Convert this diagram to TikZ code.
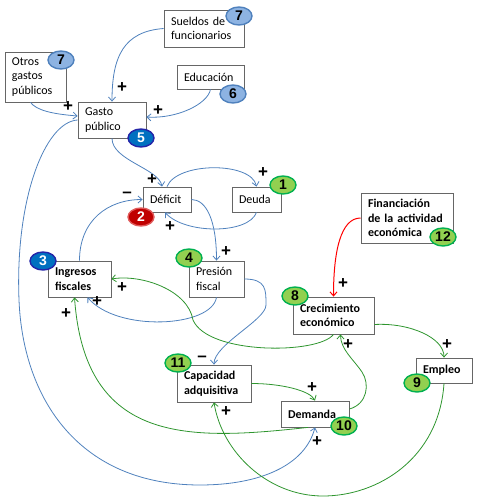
\documentclass[tikz,border=0pt]{standalone}
\usepackage{fontspec}
\setmainfont{Carlito}
\newfontfamily\numfont{Liberation Sans}
\usetikzlibrary{arrows.meta,shapes.geometric}

\definecolor{lineblue}{HTML}{4F81BD}
\definecolor{linegreen}{HTML}{2E952E}
\definecolor{lightfill}{HTML}{8DB3E2}
\definecolor{darkfill}{HTML}{0070C0}
\definecolor{darkrim}{HTML}{2424A8}
\definecolor{redfill}{HTML}{C00000}
\definecolor{redrim}{HTML}{E05A5A}
\definecolor{greenfill}{HTML}{92D050}
\definecolor{greenrim}{HTML}{00B050}

\begin{document}
\begin{tikzpicture}[x=1pt, y=-1pt,
    box/.style={draw=black!60, line width=0.8pt, fill=white, align=left,
        inner xsep=7pt, inner ysep=0pt, font=\fontsize{12}{14.5}\selectfont},
    bbox/.style={box, font=\bfseries\fontsize{12}{14.5}\selectfont},
    badge/.style 2 args={ellipse, fill=#1, draw=#2, line width=1.4pt, inner sep=-1pt,
        minimum width=26pt, minimum height=18pt, font=\numfont\bfseries\fontsize{14}{14}\selectfont},
    sign/.style={inner sep=0pt, font=\numfont\bfseries\fontsize{17}{17}\selectfont},
    link/.style={draw=lineblue, line width=0.8pt, -{Straight Barb[length=4pt,width=7pt]}},
    glink/.style={link, draw=linegreen},
    rlink/.style={link, draw=red, line width=1pt}]
    \useasboundingbox (0,0) rectangle (479,503);
    % boxes
    \node[box, text width=66pt, minimum height=37pt] (sueldos) at (204,28.5) {Sueldos de\\funcionarios};
    \node[box, text width=47pt, minimum height=50pt] (otros) at (35.5,77) {Otros\\gastos\\públicos};
    \node[box, text width=53pt, minimum height=24pt] (educ) at (210.5,77) {Educación};
    \node[box, text width=54pt, minimum height=36pt] (gasto) at (112,120) {Gasto\\público};
    \node[box, text width=34pt, minimum height=25pt] (deficit) at (167,199.5) {Déficit};
    \node[box, text width=35pt, minimum height=25pt] (deuda) at (256.5,199.5) {Deuda};
    \node[bbox, text width=49pt, minimum height=36pt] (ingresos) at (79.5,279) {Ingresos\\fiscales};
    \node[box, text width=41pt, minimum height=36pt] (presion) at (216.5,279) {Presión\\fiscal};
    \node[bbox, text width=78pt, minimum height=50pt] (financ) at (407,218) {Financiación\\de la actividad\\económica};
    \node[bbox, text width=67pt, minimum height=37pt] (crec) at (333.5,315.5) {Crecimiento\\económico};
    \node[bbox, text width=42pt, minimum height=25pt] (empleo) at (444,370.5) {Empleo};
    \node[bbox, text width=60pt, minimum height=37pt] (capac) at (214,383.5) {Capacidad\\adquisitiva};
    \node[bbox, text width=54pt, minimum height=26pt] (demanda) at (315,414) {Demanda};
    % blue links
    \draw[link] (sueldos.west) .. controls +(-40,3) and +(0,-45) .. (gasto.north);
    \draw[link] ([shift={(-5,0)}]otros.south) .. controls +(6,8) and +(-25,-2) .. ([shift={(0,-4)}]gasto.west);
    \draw[link] (educ.south) .. controls +(-3,15) and +(30,2) .. ([shift={(0,-3)}]gasto.east);
    \draw[link] (gasto.south) .. controls +(0,22) and +(-3,-18) .. ([shift={(-5,0)}]deficit.north);
    \draw[link] (deficit.north) .. controls +(10,-25) and +(-5,-25) .. (deuda.north);
    \draw[link] (deuda.south) .. controls +(-8,22) and +(20,22) .. ([shift={(-2,0)}]deficit.south);
    \draw[link] (deficit.east) .. controls +(15,0) and +(0,-40) .. (presion.north);
    \draw[link] (ingresos.north) .. controls +(0,-40) and +(-35,0) .. (deficit.west);
    \draw[link] (presion.south) .. controls +(-5,30) and +(30,35) .. ([shift={(8,0)}]ingresos.south);
    \draw[link] (presion.east) .. controls +(22,0) and +(0,-15) .. (266,305)
        .. controls +(0,15) and +(0,-20) .. (capac.north);
    \draw[link] (gasto.west) .. controls +(-33,2) and +(-4,-100) .. (19,300)
        .. controls +(4,100) and +(-120,0) .. (200,485)
        .. controls +(60,0) and +(-10,38) .. (demanda.south);
    % green and red links
    \draw[glink] (crec.south) .. controls +(-15,20) and +(15,35) .. (193,320)
        .. controls +(-5,-30) and +(30,-5) .. (ingresos.east);
    \draw[rlink] (financ.west) .. controls +(-20,0) and +(0,-45) .. (crec.north);
    \draw[glink] ([shift={(0,9)}]crec.east) .. controls +(35,-2) and +(0,-20) .. (empleo.north);
    \draw[glink] (capac.east) .. controls +(30,0) and +(-5,-10) .. (demanda.north);
    \draw[glink] ([shift={(0,-5)}]demanda.east) .. controls +(18,-5) and +(8,12) .. (362,372)
        .. controls +(-8,-12) and +(0,15) .. ([shift={(7,0)}]crec.south);
    \draw[glink] (empleo.south) .. controls +(-5,75) and +(55,0) .. (323,496)
        .. controls +(-55,0) and +(8,50) .. (capac.south);
    \draw[glink] ([shift={(-7,0)}]demanda.south) .. controls +(-118,13) and +(10.5,148) .. ([shift={(-5,0)}]ingresos.south);
    % signs
    \foreach \t/\x/\y [count=\i] in {+/122/88, +/68/107, +/158/111, +/152/180, –/127/195,
        +/263/173, +/170/227, +/226/252, +/97/302, +/122/288, +/66/314, +/343/284,
        +/348/345, +/447/345, –/202/359, +/312/388, +/226/412, +/317/442}
        \node[sign] (s\i) at (\x,\y) {\t};
    % numbered badges
    \node[badge={lightfill}{lineblue}] (n7a) at (239,16) {7};
    \node[badge={lightfill}{lineblue}] (n7b) at (61,60) {7};
    \node[badge={lightfill}{lineblue}] (n6) at (233,94) {6};
    \node[badge={darkfill}{darkrim}, text=white] (n5) at (141,138) {5};
    \node[badge={darkfill}{darkrim}, text=white] (n3) at (43,261) {3};
    \node[badge={redfill}{redrim}, text=white] (n2) at (141,217) {2};
    \foreach \n/\x/\y in {1/283/185, 4/189/258, 8/295/296, 12/443/237,
        11/178/363, 10/344/426, 9/417/383}
        \node[badge={greenfill}{greenrim}] (n\n) at (\x,\y) {\n};
\end{tikzpicture}
\end{document}
